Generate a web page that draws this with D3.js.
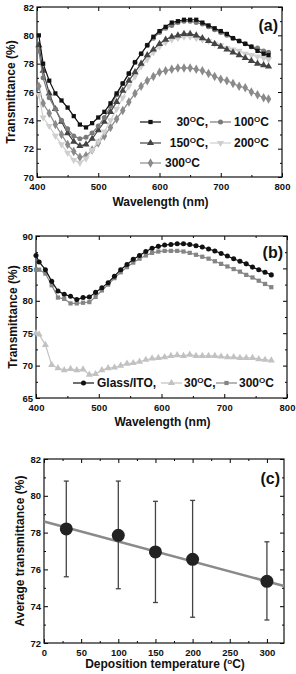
<!DOCTYPE html>
<html>
<head>
<meta charset="utf-8">
<script src="https://cdn.jsdelivr.net/npm/d3@7"></script>
<style>
body { margin: 0; background: #fff; }
text { font-family: "Liberation Sans", Arial, sans-serif; font-weight: bold; fill: #111; }
</style>
</head>
<body>
<div id="chart"></div>
<script>
// panel (a): transmittance vs wavelength for each deposition temperature
var wavelengthA = [403, 410, 420, 430, 440, 450, 460, 470, 480, 490, 500, 510, 520, 530, 540, 550, 560, 570, 580, 590,
    600, 610, 620, 630, 640, 650, 660, 670, 680, 690, 700, 710, 720, 730, 740, 750, 760, 770, 778];
var tA30 = [80.0, 78.0, 76.8, 75.9, 75.4, 74.9, 74.3, 73.7, 73.5, 73.8, 74.2, 74.6, 75.2, 75.9, 76.6, 77.3, 78.1, 78.7, 79.3, 79.9,
    80.3, 80.6, 80.9, 81.0, 81.1, 81.1, 81.1, 80.9, 80.7, 80.5, 80.3, 80.1, 79.8, 79.6, 79.4, 79.2, 78.9, 78.7, 78.6];
var tA100 = [78.9, 77.0, 75.6, 74.8, 74.0, 73.4, 72.9, 72.7, 72.8, 73.1, 73.6, 74.2, 75.0, 75.8, 76.6, 77.3, 78.1, 78.7, 79.3, 79.8,
    80.2, 80.5, 80.7, 80.9, 81.0, 81.0, 80.9, 80.8, 80.6, 80.4, 80.2, 80.0, 79.8, 79.6, 79.4, 79.2, 79.1, 78.9, 78.8];
var tA150 = [79.3, 77.5, 75.9, 74.8, 73.9, 73.1, 72.5, 72.2, 72.3, 72.7, 73.3, 73.9, 74.6, 75.3, 76.1, 76.8, 77.4, 78.0, 78.6, 79.0,
    79.4, 79.7, 79.9, 80.0, 80.1, 80.1, 80.0, 79.8, 79.6, 79.4, 79.2, 79.0, 78.8, 78.6, 78.4, 78.2, 78.0, 77.9, 77.8];
var tA200 = [75.8, 74.2, 73.6, 72.9, 72.3, 71.7, 71.2, 71.0, 71.3, 71.9, 72.5, 73.2, 74.0, 74.8, 75.6, 76.4, 77.1, 77.8, 78.3, 78.8,
    79.2, 79.5, 79.7, 79.8, 79.9, 79.9, 79.8, 79.7, 79.6, 79.4, 79.3, 79.1, 79.0, 78.9, 78.7, 78.6, 78.5, 78.4, 78.3];
var tA300 = [76.4, 75.2, 74.5, 73.7, 73.0, 72.3, 71.8, 71.4, 71.5, 71.9, 72.4, 72.9, 73.5, 74.1, 74.7, 75.3, 75.9, 76.4, 76.8, 77.1,
    77.4, 77.5, 77.6, 77.7, 77.7, 77.7, 77.6, 77.5, 77.3, 77.1, 76.9, 76.8, 76.6, 76.4, 76.3, 76.0, 75.8, 75.6, 75.5];

// panel (b): bare glass/ITO vs films
var wavelengthB = [400, 405, 415, 425, 435, 445, 455, 465, 475, 485, 495, 505, 515, 525, 535, 545, 555, 565, 575, 585,
    595, 605, 615, 625, 635, 645, 655, 665, 675, 685, 695, 705, 715, 725, 735, 745, 755, 765, 775];
var tBito = [87.0, 86.0, 84.8, 83.0, 81.5, 81.0, 80.7, 80.2, 80.5, 80.6, 81.3, 82.0, 82.8, 83.8, 84.8, 85.6, 86.4, 87.0, 87.6, 88.1,
    88.4, 88.6, 88.7, 88.8, 88.8, 88.7, 88.5, 88.3, 88.0, 87.7, 87.3, 86.9, 86.5, 86.1, 85.7, 85.2, 84.8, 84.4, 84.0];
var tB30 = [75.0, 74.8, 73.2, 70.1, 69.6, 69.3, 69.5, 69.3, 69.4, 68.6, 68.7, 69.3, 69.6, 69.7, 70.0, 70.3, 70.4, 70.6, 70.9, 71.1,
    71.2, 71.3, 71.5, 71.6, 71.5, 71.7, 71.5, 71.5, 71.5, 71.5, 71.4, 71.3, 71.3, 71.2, 71.2, 71.2, 71.0, 70.9, 70.8];
var tB300 = [84.8, 84.8, 84.2, 82.4, 80.5, 80.3, 79.6, 79.6, 79.7, 79.8, 80.6, 81.6, 82.5, 83.5, 84.4, 85.2, 85.9, 86.5, 87.0, 87.4,
    87.6, 87.7, 87.7, 87.7, 87.6, 87.4, 87.1, 86.8, 86.5, 86.1, 85.7, 85.3, 84.9, 84.5, 84.0, 83.6, 83.1, 82.6, 82.1];

// panel (c): average transmittance vs deposition temperature
var depTemps = [30, 100, 150, 200, 300];
var avgTrans = [78.2, 77.85, 76.95, 76.55, 75.35];
var errLow = [75.6, 74.95, 74.2, 73.4, 73.25];
var errHigh = [80.8, 80.8, 79.7, 79.75, 77.5];
var fitTemps = [0, 323];
var fitTrans = [78.6, 75.1];

var svg = d3.select("#chart").append("svg")
    .attr("width", 296)
    .attr("height", 674);

function makePanel(box, xDom, yDom, xMajor, xMinor, yMajor, yMinor) {
    var x = d3.scaleLinear().domain(xDom).range([box.left, box.right]);
    var y = d3.scaleLinear().domain(yDom).range([box.bottom, box.top]);
    var g = svg.append("g");

    function axis(a, t) {
        g.append("g").attr("transform", t).call(a)
            .attr("font-size", 9.5)
            .call(s => s.select(".domain").remove());
    }
    axis(d3.axisBottom(x).tickValues(xMajor).tickSize(-4).tickPadding(6), `translate(0,${box.bottom})`);
    axis(d3.axisBottom(x).tickValues(xMinor).tickSize(-2).tickFormat(""), `translate(0,${box.bottom})`);
    axis(d3.axisTop(x).tickValues(xMajor).tickSize(-4).tickFormat(""), `translate(0,${box.top})`);
    axis(d3.axisTop(x).tickValues(xMinor).tickSize(-2).tickFormat(""), `translate(0,${box.top})`);
    axis(d3.axisLeft(y).tickValues(yMajor).tickSize(-4).tickPadding(3), `translate(${box.left},0)`);
    axis(d3.axisLeft(y).tickValues(yMinor).tickSize(-2).tickFormat(""), `translate(${box.left},0)`);
    axis(d3.axisRight(y).tickValues(yMajor).tickSize(-4).tickFormat(""), `translate(${box.right},0)`);
    axis(d3.axisRight(y).tickValues(yMinor).tickSize(-2).tickFormat(""), `translate(${box.right},0)`);

    g.append("rect")
        .attr("x", box.left).attr("y", box.top)
        .attr("width", box.right - box.left)
        .attr("height", box.bottom - box.top)
        .attr("fill", "none")
        .attr("stroke", "#111")
        .attr("stroke-width", 1.2);
    return {g: g, x: x, y: y, box: box};
}

function titles(p, xTitle, yTitle, tag, xTitleY, yTitleX, tagY) {
    var xt = p.g.append("text")
        .attr("x", (p.box.left + p.box.right) / 2 + 1)
        .attr("y", xTitleY)
        .attr("text-anchor", "middle")
        .attr("font-size", 12);
    xTitle(xt);
    p.g.append("text")
        .attr("transform", `translate(${yTitleX},${(p.box.top + p.box.bottom) / 2}) rotate(-90)`)
        .attr("text-anchor", "middle")
        .attr("font-size", 12)
        .text(yTitle);
    p.g.append("text")
        .attr("x", p.box.right - 4)
        .attr("y", tagY)
        .attr("text-anchor", "end")
        .attr("font-size", 16)
        .text(tag);
}

// "30ᴼC," style label with raised O
function tempLabel(sel, num, tail) {
    sel.append("tspan").text(num);
    sel.append("tspan").attr("dy", -4.5).attr("font-size", 8).text("O");
    sel.append("tspan").attr("dy", 4.5).text(tail);
}

function symbolPath(type, size, rot) {
    return d3.symbol().type(type).size(size)();
}

function drawSeries(p, xs, ys, s) {
    var pts = xs.map((d, i) => [d, ys[i]]);
    p.g.append("path")
        .datum(pts)
        .attr("fill", "none")
        .attr("stroke", s.color)
        .attr("stroke-width", 1.2)
        .attr("d", d3.line().x(d => p.x(d[0])).y(d => p.y(d[1])));
    p.g.selectAll(null)
        .data(pts)
        .enter()
        .append("path")
        .attr("transform", d => `translate(${p.x(d[0])},${p.y(d[1])}) rotate(${s.rot || 0})`)
        .attr("d", symbolPath(s.symbol, s.size))
        .attr("fill", s.color);
}

function legendItem(p, x0, y0, s) {
    p.g.append("line")
        .attr("x1", x0).attr("x2", x0 + 21)
        .attr("y1", y0).attr("y2", y0)
        .attr("stroke", s.color).attr("stroke-width", 1.2);
    p.g.append("path")
        .attr("transform", `translate(${x0 + 10.5},${y0}) rotate(${s.rot || 0})`)
        .attr("d", symbolPath(s.symbol, s.size))
        .attr("fill", s.color);
}

// ---------- panel (a)
var pa = makePanel({left: 37, right: 282, top: 7, bottom: 177}, [400, 800], [70, 82],
    [400, 500, 600, 700, 800], [450, 550, 650, 750], d3.range(70, 83, 2), d3.range(71, 82, 2));

var seriesA = [
    {name: "300", vals: tA300, color: "#8a8a8a", symbol: d3.symbolDiamond, size: 26},
    {name: "200", vals: tA200, color: "#cfcfcf", symbol: d3.symbolTriangle, size: 22, rot: 180},
    {name: "150", vals: tA150, color: "#444", symbol: d3.symbolTriangle, size: 22},
    {name: "100", vals: tA100, color: "#7a7a7a", symbol: d3.symbolCircle, size: 20},
    {name: "30", vals: tA30, color: "#111", symbol: d3.symbolSquare, size: 18}
];
seriesA.forEach(s => drawSeries(pa, wavelengthA, s.vals, s));

titles(pa, t => t.text("Wavelength (nm)"), "Transmittance (%)", "(a)", 206, 15, 31);

var legA = {};
seriesA.forEach(s => legA[s.name] = s);
legendItem(pa, 140, 122, legA["30"]);
tempLabel(pa.g.append("text").attr("x", 208).attr("y", 126).attr("text-anchor", "end").attr("font-size", 12), "30", "C,");
legendItem(pa, 210, 122, legA["100"]);
tempLabel(pa.g.append("text").attr("x", 234).attr("y", 126).attr("font-size", 12), "100", "C");
legendItem(pa, 140, 143, legA["150"]);
tempLabel(pa.g.append("text").attr("x", 208).attr("y", 147).attr("text-anchor", "end").attr("font-size", 12), "150", "C,");
legendItem(pa, 210, 143, legA["200"]);
tempLabel(pa.g.append("text").attr("x", 234).attr("y", 147).attr("font-size", 12), "200", "C");
legendItem(pa, 140, 163, legA["300"]);
tempLabel(pa.g.append("text").attr("x", 165).attr("y", 167).attr("font-size", 12), "300", "C");

// ---------- panel (b)
var pb = makePanel({left: 36, right: 287, top: 236, bottom: 398}, [400, 800], [65, 90],
    [400, 500, 600, 700, 800], [450, 550, 650, 750], d3.range(65, 91, 5), d3.range(67.5, 90, 5));

var seriesB = [
    {name: "30", vals: tB30, color: "#c2c2c2", symbol: d3.symbolTriangle, size: 22},
    {name: "300", vals: tB300, color: "#858585", symbol: d3.symbolSquare, size: 18},
    {name: "ito", vals: tBito, color: "#111", symbol: d3.symbolCircle, size: 20}
];
seriesB.forEach(s => drawSeries(pb, wavelengthB, s.vals, s));

titles(pb, t => t.text("Wavelength (nm)"), "Transmittance (%)", "(b)", 426, 17, 258);

legendItem(pb, 73, 383, seriesB[2]);
pb.g.append("text").attr("x", 97).attr("y", 387).attr("font-size", 12).text("Glass/ITO,");
legendItem(pb, 161, 383, seriesB[0]);
tempLabel(pb.g.append("text").attr("x", 184).attr("y", 387).attr("font-size", 12), "30", "C,");
legendItem(pb, 216, 383, seriesB[1]);
tempLabel(pb.g.append("text").attr("x", 239).attr("y", 387).attr("font-size", 12), "300", "C");

// ---------- panel (c)
var pc = makePanel({left: 44, right: 284, top: 459, bottom: 643}, [0, 323], [72, 82],
    d3.range(0, 301, 50), d3.range(25, 325, 50), d3.range(72, 83, 2), d3.range(73, 82, 2));

pc.g.append("path")
    .datum(fitTemps.map((d, i) => [d, fitTrans[i]]))
    .attr("fill", "none")
    .attr("stroke", "#8a8a8a")
    .attr("stroke-width", 2.5)
    .attr("d", d3.line().x(d => pc.x(d[0])).y(d => pc.y(d[1])));

var bars = pc.g.selectAll(null)
    .data(depTemps)
    .enter()
    .append("g");
bars.append("line")
    .attr("x1", d => pc.x(d)).attr("x2", d => pc.x(d))
    .attr("y1", (d, i) => pc.y(errLow[i]))
    .attr("y2", (d, i) => pc.y(errHigh[i]))
    .attr("stroke", "#444").attr("stroke-width", 1.3);
[errLow, errHigh].forEach(function(arr) {
    bars.append("line")
        .attr("x1", d => pc.x(d) - 2.5).attr("x2", d => pc.x(d) + 2.5)
        .attr("y1", (d, i) => pc.y(arr[i]))
        .attr("y2", (d, i) => pc.y(arr[i]))
        .attr("stroke", "#444").attr("stroke-width", 1.3);
});
bars.append("circle")
    .attr("cx", d => pc.x(d))
    .attr("cy", (d, i) => pc.y(avgTrans[i]))
    .attr("r", 6.5)
    .attr("fill", "#222");

titles(pc, function(t) {
    t.append("tspan").text("Deposition temperature (");
    t.append("tspan").attr("dy", -4).attr("font-size", 8).text("o");
    t.append("tspan").attr("dy", 4).text("C)");
}, "Average transmittance (%)", "(c)", 668, 24, 484);
</script>
</body>
</html>
